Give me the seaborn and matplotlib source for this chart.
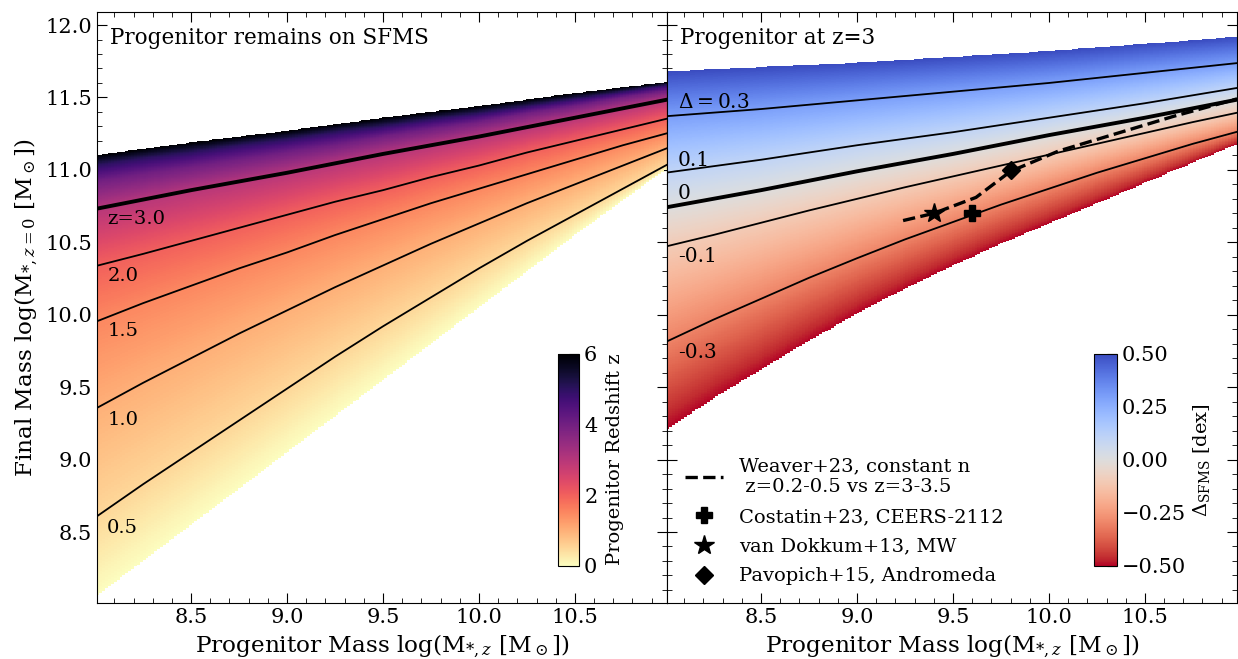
import numpy as np
import matplotlib
matplotlib.use("Agg")
import matplotlib.pyplot as plt
import seaborn as sns
from matplotlib.ticker import MultipleLocator

mass_pts = [8.0, 8.25, 8.5, 8.75, 9.0, 9.25, 9.5, 9.75, 10.0, 10.25, 10.5, 10.75, 11.0]

# left panel: final mass of a progenitor that stays on the SFMS from redshift z
# (z=4 and z=5 are not drawn, only used for the colour shading)
z_levels = [0.0, 0.5, 1.0, 1.5, 2.0, 3.0, 4.0, 5.0, 6.0]
final_z00 = [8.05, 8.30, 8.55, 8.80, 9.05, 9.30, 9.55, 9.80, 10.05, 10.30, 10.55, 10.79, 11.03]
final_z05 = [8.60, 8.83, 9.05, 9.27, 9.49, 9.71, 9.92, 10.12, 10.32, 10.51, 10.69, 10.87, 11.05]
final_z10 = [9.35, 9.53, 9.70, 9.87, 10.03, 10.19, 10.34, 10.49, 10.63, 10.77, 10.90, 11.03, 11.16]
final_z15 = [9.95, 10.08, 10.20, 10.32, 10.43, 10.55, 10.66, 10.77, 10.87, 10.97, 11.07, 11.17, 11.26]
final_z20 = [10.335, 10.42, 10.51, 10.60, 10.69, 10.78, 10.86, 10.95, 11.03, 11.12, 11.20, 11.28, 11.36]
final_z30 = [10.73, 10.795, 10.86, 10.92, 10.98, 11.045, 11.11, 11.17, 11.23, 11.295, 11.36, 11.425, 11.49]
final_z40 = [10.92, 10.97, 11.02, 11.07, 11.12, 11.17, 11.23, 11.28, 11.33, 11.39, 11.44, 11.50, 11.55]
final_z50 = [11.03, 11.08, 11.12, 11.17, 11.21, 11.26, 11.30, 11.35, 11.39, 11.44, 11.49, 11.54, 11.59]
final_z60 = [11.10, 11.145, 11.19, 11.23, 11.27, 11.315, 11.36, 11.40, 11.44, 11.485, 11.53, 11.57, 11.61]

# right panel: progenitor at z=3, offset from the SFMS
delta_levels = [-0.5, -0.3, -0.1, 0.0, 0.1, 0.3, 0.5]
final_dm05 = [9.20, 9.42, 9.62, 9.82, 10.01, 10.18, 10.34, 10.49, 10.63, 10.77, 10.91, 11.05, 11.19]
final_dm03 = [9.81, 9.965, 10.11, 10.255, 10.39, 10.52, 10.64, 10.76, 10.87, 10.98, 11.08, 11.18, 11.27]
final_dm01 = [10.47, 10.55, 10.635, 10.72, 10.80, 10.88, 10.955, 11.03, 11.105, 11.18, 11.255, 11.33, 11.40]
final_d00 = [10.74, 10.80, 10.86, 10.925, 10.99, 11.05, 11.11, 11.175, 11.24, 11.30, 11.36, 11.425, 11.49]
final_dp01 = [10.98, 11.025, 11.07, 11.12, 11.17, 11.215, 11.26, 11.31, 11.36, 11.41, 11.46, 11.515, 11.57]
final_dp03 = [11.37, 11.395, 11.42, 11.45, 11.48, 11.51, 11.54, 11.57, 11.60, 11.635, 11.67, 11.705, 11.74]
final_dp05 = [11.68, 11.695, 11.71, 11.725, 11.74, 11.76, 11.78, 11.80, 11.82, 11.845, 11.87, 11.895, 11.92]

# observational comparisons
weaver_mass = [9.24, 9.40, 9.62, 9.80, 10.05, 10.65, 10.98]
weaver_final = [10.65, 10.70, 10.81, 10.99, 11.13, 11.37, 11.49]
costatin = (9.6, 10.70)
vandokkum = (9.4, 10.70)
pavopich = (9.8, 11.0)

sns.set_style("ticks")
plt.rcParams["font.family"] = ["DejaVu Serif"]
plt.rcParams["mathtext.fontset"] = "dejavuserif"
plt.rcParams.update({
    "xtick.direction": "in", "ytick.direction": "in",
    "xtick.top": True, "ytick.right": True,
    "xtick.major.size": 7, "ytick.major.size": 7,
    "xtick.minor.size": 3.5, "ytick.minor.size": 3.5,
    "axes.edgecolor": "k", "xtick.color": "k", "ytick.color": "k",
    "text.color": "k", "axes.labelcolor": "k",
    "xtick.labelsize": 15, "ytick.labelsize": 15,
})


def build_field(curves, levels, gx, gy):
    rows = np.array([np.interp(gx, mass_pts, c) for c in curves])
    field = np.full((len(gy), len(gx)), np.nan)
    for i in range(len(gx)):
        col = rows[:, i]
        inside = (gy >= col[0]) & (gy <= col[-1])
        field[inside, i] = np.interp(gy[inside], col, levels)
    return field


gx = np.arange(8.0, 11.0001, 0.015)
gy = np.arange(8.0, 12.1, 0.004)

fig, (ax1, ax2) = plt.subplots(1, 2, figsize=(12.38, 6.59), dpi=100, sharey=True)
fig.subplots_adjust(left=0.0784, right=0.9992, bottom=0.085, top=0.9818, wspace=0)

# ---- left panel
left_curves = [final_z00, final_z05, final_z10, final_z15, final_z20,
               final_z30, final_z40, final_z50, final_z60]
zfield = build_field(left_curves, z_levels, gx, gy)
m1 = ax1.pcolormesh(gx, gy, zfield, cmap="magma_r", vmin=0, vmax=6, shading="nearest")
for c in [final_z05, final_z10, final_z15, final_z20]:
    sns.lineplot(x=mass_pts, y=c, ax=ax1, color="k", lw=1.3)
sns.lineplot(x=mass_pts, y=final_z30, ax=ax1, color="k", lw=2.8)

for txt, yb in [("z=3.0", 10.626), ("2.0", 10.232), ("1.5", 9.85), ("1.0", 9.241), ("0.5", 8.494)]:
    ax1.text(8.063, yb, txt, fontsize=14, va="baseline", ha="left")
ax1.text(0.022, 0.975, "Progenitor remains on SFMS", transform=ax1.transAxes,
         fontsize=15.5, va="top", ha="left")

cax1 = ax1.inset_axes([0.809, 0.063, 0.037, 0.359])
cb1 = fig.colorbar(m1, cax=cax1)
cb1.set_ticks([0, 2, 4, 6])
cb1.ax.yaxis.set_minor_locator(MultipleLocator(0.5))
cb1.ax.tick_params(which="both", direction="in", right=True, left=False, labelsize=15)
cb1.set_label("Progenitor Redshift z", fontsize=14, labelpad=6)

# ---- right panel
right_curves = [final_dm05, final_dm03, final_dm01, final_d00, final_dp01, final_dp03, final_dp05]
dfield = build_field(right_curves, delta_levels, gx, gy)
m2 = ax2.pcolormesh(gx, gy, dfield, cmap="coolwarm_r", vmin=-0.5, vmax=0.5, shading="nearest")
for c in [final_dm03, final_dm01, final_dp01, final_dp03]:
    sns.lineplot(x=mass_pts, y=c, ax=ax2, color="k", lw=1.3)
sns.lineplot(x=mass_pts, y=final_d00, ax=ax2, color="k", lw=2.8)

for txt, yb in [(r"$\Delta = 0.3$", 11.43), ("0.1", 11.025), ("0", 10.80),
                ("-0.1", 10.365), ("-0.3", 9.70)]:
    ax2.text(8.066, yb, txt, fontsize=14.5, va="baseline", ha="left")
ax2.text(0.022, 0.975, "Progenitor at z=3", transform=ax2.transAxes,
         fontsize=15.5, va="top", ha="left")

sns.lineplot(x=weaver_mass, y=weaver_final, ax=ax2, color="k", lw=2.4,
             linestyle="--", sort=False)
h_w = ax2.lines[-1]
h_c, = ax2.plot(*costatin, "kP", ms=11, ls="none")
h_v, = ax2.plot(*vandokkum, "k*", ms=15, ls="none")
h_p, = ax2.plot(*pavopich, "kD", ms=9, ls="none")
ax2.legend([h_w, h_c, h_v, h_p],
           ["Weaver+23, constant n\n z=0.2-0.5 vs z=3-3.5", "Costatin+23, CEERS-2112",
            "van Dokkum+13, MW", "Pavopich+15, Andromeda"],
           loc="lower left", bbox_to_anchor=(0.0, 0.0), frameon=False, fontsize=14,
           labelspacing=0.6, handletextpad=0.8)

cax2 = ax2.inset_axes([0.749, 0.063, 0.040, 0.359])
cb2 = fig.colorbar(m2, cax=cax2)
cb2.set_ticks([-0.5, -0.25, 0, 0.25, 0.5])
cb2.ax.yaxis.set_minor_locator(MultipleLocator(0.05))
cb2.ax.tick_params(which="both", direction="in", right=True, left=False, labelsize=15)
cb2.set_label(r"$\Delta_{\rm SFMS}$ [dex]", fontsize=14, labelpad=4)

for ax in (ax1, ax2):
    ax.set_xlim(8.01, 10.98)
    ax.set_ylim(8.01, 12.09)
    ax.xaxis.set_major_locator(MultipleLocator(0.5))
    ax.xaxis.set_minor_locator(MultipleLocator(0.1))
    ax.yaxis.set_major_locator(MultipleLocator(0.5))
    ax.yaxis.set_minor_locator(MultipleLocator(0.1))
    ax.tick_params(which="both", top=True, right=True, left=True)
    ax.set_xlabel(r"Progenitor Mass log(M$_{*,z}$ [M$_\odot$])", fontsize=16.7)
ax2.tick_params(labelleft=False)
ax1.set_ylabel(r"Final Mass log(M$_{*,z=0}$ [M$_\odot$])", fontsize=16.7)

fig.savefig("out.png", dpi=100)
